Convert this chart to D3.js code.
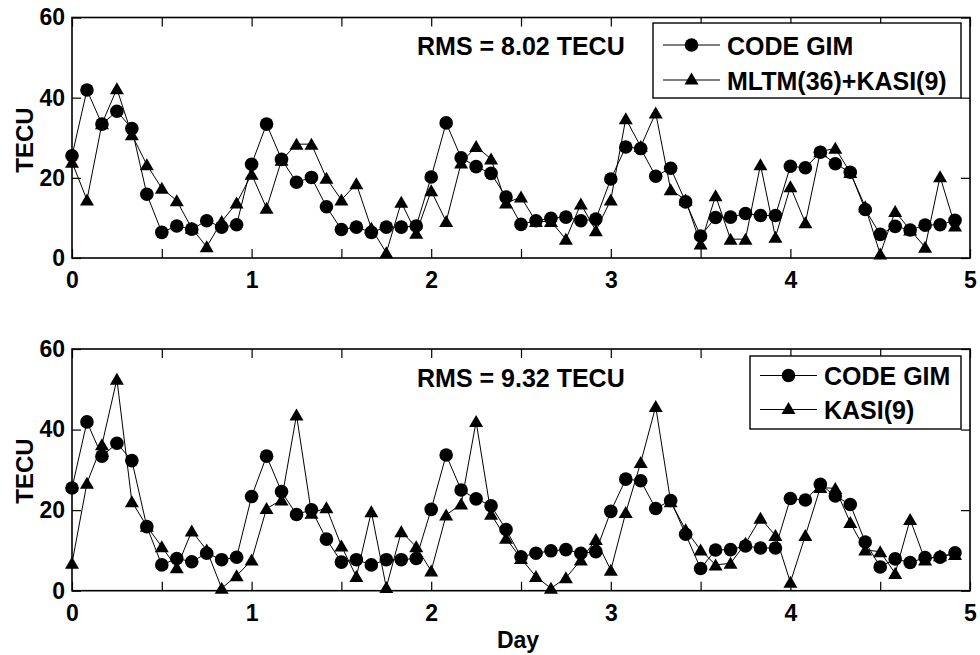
<!DOCTYPE html>
<html>
<head>
<meta charset="utf-8">
<script src="https://cdn.jsdelivr.net/npm/d3@7"></script>
<style>
  html, body { margin: 0; padding: 0; background: #fff; }
  svg { display: block; }
  text { font-family: "Liberation Sans", Arial, Helvetica, sans-serif; font-weight: bold; fill: #000; }
</style>
</head>
<body>
<svg id="chart" width="980" height="655"></svg>
<script>
// ---- data ----
const stepsPerDay = 12;
const codeGim = [25.5, 41.9, 33.4, 36.6, 32.3, 15.9, 6.4, 8.0, 7.2, 9.3, 7.7, 8.3,
                 23.4, 33.4, 24.6, 18.9, 20.1, 12.8, 7.1, 7.7, 6.4, 7.7, 7.7, 8.0,
                 20.2, 33.7, 25.0, 22.8, 21.1, 15.2, 8.4, 9.3, 9.9, 10.2, 9.3, 9.7,
                 19.7, 27.7, 27.3, 20.4, 22.4, 14.0, 5.5, 10.1, 10.2, 11.1, 10.6, 10.6,
                 22.9, 22.5, 26.4, 23.5, 21.4, 12.1, 5.9, 7.9, 7.0, 8.2, 8.3, 9.4];
const mltmKasi = [23.9, 14.5, 33.5, 42.2, 30.75, 23.25, 17.4, 14.3, 7.4, 2.8, 9.1, 13.7,
                  20.9, 12.4, 24.4, 28.4, 28.4, 19.9, 14.5, 18.5, 7.4, 1.3, 13.9, 6.2,
                  16.75, 9.1, 23.7, 27.8, 24.7, 13.7, 15.2, 9.1, 9.1, 4.7, 13.5, 6.8,
                  14.5, 34.75, 27.8, 36.2, 17.0, 14.5, 3.5, 15.5, 4.7, 4.7, 23.25, 5.2,
                  17.8, 8.8, 26.5, 27.4, 21.3, 12.8, 1.0, 11.6, 7.0, 2.7, 20.3, 8.0];
const kasi = [6.8, 26.7, 36.2, 52.5, 22.1, 16.0, 10.9, 5.7, 14.8, 10.1, 0.6, 3.7,
              7.6, 20.4, 22.5, 43.6, 19.2, 20.6, 11.1, 3.5, 19.6, 0.8, 14.65, 10.9,
              4.9, 18.8, 21.5, 42.0, 19.0, 13.0, 8.0, 3.5, 0.6, 3.2, 7.6, 12.7,
              5.1, 19.4, 31.8, 45.7, 22.1, 15.1, 10.1, 6.4, 6.8, 11.75, 18.0, 13.7,
              2.1, 13.7, 25.6, 25.4, 16.9, 10.1, 9.7, 4.3, 17.7, 7.6, 8.7, 9.0];
const xTicks = [0, 0.5, 1, 1.5, 2, 2.5, 3, 3.5, 4, 4.5, 5];
const yTicks = [0, 20, 40, 60];
const panelNames = ["top", "bottom"];
const rmsLabels = ["RMS = 8.02 TECU", "RMS = 9.32 TECU"];
const legendTop = ["CODE GIM", "MLTM(36)+KASI(9)"];
const legendBottom = ["CODE GIM", "KASI(9)"];
const yLabel = "TECU";
const xLabel = "Day";

// ---- layout ----
const svg = d3.select("#chart");
const X0 = 72, X1 = 970;
const panels = [
  { top: 17.5, bottom: 258, series2: mltmKasi, legend: legendTop, rms: rmsLabels[0], labelY: 140,
    box: { x: 653, y: 23, w: 308, h: 75 }, textX: 727, rows: [45, 80] },
  { top: 349, bottom: 590.7, series2: kasi, legend: legendBottom, rms: rmsLabels[1], labelY: 471,
    box: { x: 750, y: 356, w: 211, h: 73 }, textX: 824, rows: [375.5, 409.5] }
];

const x = d3.scaleLinear().domain([0, 5]).range([X0, X1]);
const tickFmt = d => Number.isInteger(d) ? String(d) : "";

const triPath = "M0,-6.5L7,5.5L-7,5.5Z";

panels.forEach((p, pi) => {
  const y = d3.scaleLinear().domain([0, 60]).range([p.bottom, p.top]);
  const g = svg.append("g").attr("class", "panel-" + panelNames[pi]);

  // axes
  const ax = (gen, tr) => {
    const a = g.append("g").attr("transform", tr).call(gen);
    a.select(".domain").remove();
    a.selectAll(".tick line").attr("stroke", "#000").attr("stroke-width", 1.2);
    a.selectAll("text").style("font-size", "23px");
    return a;
  };
  ax(d3.axisBottom(x).tickValues(xTicks).tickFormat(tickFmt).tickSizeInner(-9).tickSizeOuter(0).tickPadding(14),
     `translate(0,${p.bottom})`);
  ax(d3.axisTop(x).tickValues(xTicks).tickFormat("").tickSizeInner(-9).tickSizeOuter(0),
     `translate(0,${p.top})`);
  ax(d3.axisLeft(y).tickValues(yTicks).tickFormat(d3.format("d")).tickSizeInner(-9).tickSizeOuter(0).tickPadding(7),
     `translate(${X0},0)`);
  ax(d3.axisRight(y).tickValues(yTicks).tickFormat("").tickSizeInner(-9).tickSizeOuter(0),
     `translate(${X1},0)`);

  // frame
  g.append("rect").attr("x", X0).attr("y", p.top).attr("width", X1 - X0).attr("height", p.bottom - p.top)
    .attr("fill", "none").attr("stroke", "#000").attr("stroke-width", 1.6);

  const line = d3.line().x((d, i) => x(i / stepsPerDay)).y(d => y(d));

  // series 1: CODE GIM (circles)
  g.append("path").datum(codeGim).attr("d", line).attr("fill", "none").attr("stroke", "#000").attr("stroke-width", 1);
  g.selectAll(".c").data(codeGim).enter().append("circle")
    .attr("cx", (d, i) => x(i / stepsPerDay)).attr("cy", d => y(d)).attr("r", 6.8).attr("fill", "#000");

  // series 2: triangles
  g.append("path").datum(p.series2).attr("d", line).attr("fill", "none").attr("stroke", "#000").attr("stroke-width", 1);
  g.selectAll(".t").data(p.series2).enter().append("path")
    .attr("d", triPath).attr("transform", (d, i) => `translate(${x(i / stepsPerDay)},${y(d)})`).attr("fill", "#000");

  // y label
  g.append("text").attr("transform", `translate(24,${p.labelY}) rotate(-90)`)
    .attr("text-anchor", "middle").attr("dominant-baseline", "central").style("font-size", "24px").text(yLabel);

  // RMS text
  g.append("text").attr("x", 417).attr("y", p.top + 37.5).style("font-size", "25px").text(p.rms);

  // legend
  const lg = g.append("g");
  lg.append("rect").attr("x", p.box.x).attr("y", p.box.y).attr("width", p.box.w).attr("height", p.box.h)
    .attr("fill", "#fff").attr("stroke", "#000").attr("stroke-width", 1.4);
  p.legend.forEach((name, i) => {
    const cy = p.rows[i];
    const lx0 = p.textX - 64, lx1 = p.textX - 7, mx = (lx0 + lx1) / 2;
    lg.append("line").attr("x1", lx0).attr("x2", lx1).attr("y1", cy).attr("y2", cy).attr("stroke", "#000").attr("stroke-width", 1);
    if (i === 0) lg.append("circle").attr("cx", mx).attr("cy", cy).attr("r", 6.8).attr("fill", "#000");
    else lg.append("path").attr("d", triPath).attr("transform", `translate(${mx},${cy - 1})`).attr("fill", "#000");
    lg.append("text").attr("x", p.textX).attr("y", cy + 9.5).style("font-size", "25px").text(name);
  });
});

// x label
svg.append("text").attr("x", 518).attr("y", 648).attr("text-anchor", "middle").style("font-size", "23px").text(xLabel);
</script>
</body>
</html>
